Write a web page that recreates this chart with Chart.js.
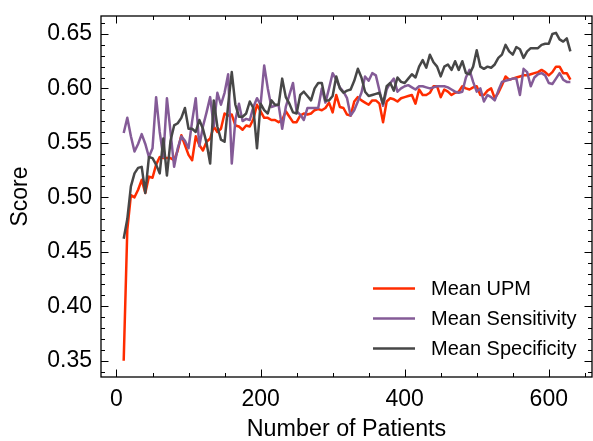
<!DOCTYPE html>
<html>
<head>
<meta charset="utf-8">
<script src="https://cdn.jsdelivr.net/npm/chart.js@4.4.1/dist/chart.umd.min.js"></script>
<style>
  html, body { margin: 0; padding: 0; background: #fff; }
</style>
</head>
<body>
<canvas id="chart" width="593" height="441"></canvas>
<script>
const patients = [
  10, 15, 20, 25, 30, 35, 40, 45, 50, 55, 60, 65, 70, 75, 80, 85, 90, 95, 100, 105,
  110, 115, 120, 125, 130, 135, 140, 145, 150, 155, 160, 165, 170, 175, 180, 185, 190, 195, 200, 205,
  210, 215, 220, 225, 230, 235, 240, 245, 250, 255, 260, 265, 270, 275, 280, 285, 290, 295, 300, 305,
  310, 315, 320, 325, 330, 335, 340, 345, 350, 355, 360, 365, 370, 375, 380, 385, 390, 395, 400, 405,
  410, 415, 420, 425, 430, 435, 440, 445, 450, 455, 460, 465, 470, 475, 480, 485, 490, 495, 500, 505,
  510, 515, 520, 525, 530, 535, 540, 545, 550, 555, 560, 565, 570, 575, 580, 585, 590, 595, 600, 605,
  610, 615, 620, 625, 630
];

const meanUpm = [
  0.350, 0.470, 0.502, 0.500, 0.507, 0.516, 0.504, 0.519, 0.518, 0.530, 0.537, 0.536, 0.536, 0.536, 0.534, 0.543, 0.557, 0.548, 0.539, 0.534,
  0.556, 0.548, 0.543, 0.551, 0.554, 0.565, 0.560, 0.563, 0.577, 0.575, 0.576, 0.566, 0.565, 0.562, 0.566, 0.565, 0.572, 0.585, 0.579, 0.573,
  0.573, 0.571, 0.571, 0.569, 0.571, 0.579, 0.574, 0.569, 0.569, 0.575, 0.577, 0.576, 0.577, 0.580, 0.581, 0.580, 0.582, 0.587, 0.578, 0.594,
  0.583, 0.582, 0.576, 0.575, 0.588, 0.592, 0.589, 0.587, 0.585, 0.589, 0.589, 0.586, 0.569, 0.588, 0.591, 0.590, 0.588, 0.591, 0.592, 0.593,
  0.594, 0.586, 0.599, 0.594, 0.594, 0.596, 0.602, 0.602, 0.592, 0.599, 0.597, 0.594, 0.596, 0.597, 0.602, 0.600, 0.599, 0.601, 0.602, 0.594,
  0.594, 0.598, 0.600, 0.591, 0.596, 0.603, 0.611, 0.608, 0.609, 0.610, 0.611, 0.612, 0.612, 0.613, 0.614, 0.615, 0.617, 0.615, 0.612, 0.615,
  0.620, 0.620, 0.614, 0.614, 0.608
];

const meanSensitivity = [
  0.559, 0.573, 0.556, 0.542, 0.549, 0.558, 0.549, 0.537, 0.545, 0.592, 0.560, 0.537, 0.591, 0.560, 0.528, 0.545, 0.556, 0.552, 0.545, 0.570,
  0.591, 0.547, 0.565, 0.578, 0.592, 0.565, 0.596, 0.585, 0.596, 0.613, 0.531, 0.571, 0.586, 0.570, 0.572, 0.571, 0.583, 0.591, 0.585, 0.621,
  0.600, 0.583, 0.584, 0.585, 0.563, 0.583, 0.594, 0.605, 0.579, 0.576, 0.571, 0.582, 0.582, 0.582, 0.582, 0.600, 0.587, 0.600, 0.614, 0.608,
  0.601, 0.597, 0.591, 0.575, 0.580, 0.588, 0.596, 0.611, 0.607, 0.614, 0.612, 0.598, 0.584, 0.599, 0.605, 0.609, 0.597, 0.600, 0.602, 0.603,
  0.601, 0.599, 0.602, 0.602, 0.601, 0.600, 0.601, 0.602, 0.602, 0.602, 0.601, 0.599, 0.597, 0.596, 0.597, 0.610, 0.617, 0.606, 0.597, 0.600,
  0.588, 0.594, 0.592, 0.589, 0.598, 0.606, 0.607, 0.608, 0.609, 0.609, 0.594, 0.618, 0.615, 0.602, 0.610, 0.613, 0.614, 0.612, 0.605, 0.604,
  0.609, 0.614, 0.608, 0.606, 0.606
];

const meanSpecificity = [
  0.462, 0.480, 0.510, 0.522, 0.527, 0.528, 0.504, 0.537, 0.536, 0.530, 0.522, 0.554, 0.520, 0.552, 0.566, 0.568, 0.573, 0.582, 0.563, 0.563,
  0.560, 0.571, 0.563, 0.550, 0.531, 0.589, 0.565, 0.553, 0.551, 0.585, 0.615, 0.585, 0.574, 0.574, 0.577, 0.588, 0.582, 0.545, 0.586, 0.580,
  0.577, 0.589, 0.585, 0.585, 0.609, 0.592, 0.586, 0.578, 0.577, 0.594, 0.597, 0.593, 0.589, 0.600, 0.605, 0.605, 0.589, 0.589, 0.593, 0.611,
  0.600, 0.596, 0.598, 0.599, 0.607, 0.618, 0.610, 0.597, 0.593, 0.594, 0.595, 0.596, 0.586, 0.602, 0.605, 0.598, 0.610, 0.606, 0.605, 0.609,
  0.613, 0.610, 0.620, 0.626, 0.619, 0.631, 0.624, 0.620, 0.611, 0.620, 0.622, 0.617, 0.625, 0.617, 0.625, 0.614, 0.613, 0.620, 0.635, 0.620,
  0.618, 0.620, 0.619, 0.622, 0.628, 0.631, 0.640, 0.634, 0.631, 0.638, 0.636, 0.628, 0.634, 0.637, 0.637, 0.637, 0.640, 0.641, 0.641, 0.650,
  0.651, 0.645, 0.643, 0.646, 0.634
];

const seriesLabels = ['Mean UPM', 'Mean Sensitivity', 'Mean Specificity'];
const seriesColors = ['#FF2C00', '#845B97', '#474747'];
const xTickValues = [0, 200, 400, 600];
const yTickValues = [0.35, 0.40, 0.45, 0.50, 0.55, 0.60, 0.65];

const FONT = '"Liberation Sans", Arial, Helvetica, sans-serif';

function toPoints(ys) {
  return patients.map((p, i) => ({x: p, y: ys[i]}));
}

// inward ticks on all four sides + box frame, like the matplotlib style
const frameTicks = {
  id: 'frameTicks',
  afterDatasetsDraw(chart) {
    const {ctx, chartArea: a, scales: {x, y}} = chart;
    ctx.save();
    ctx.strokeStyle = '#000';
    ctx.lineWidth = 1;
    ctx.beginPath();
    for (let v = 0; v <= 650; v += 50) {
      const px = Math.round(x.getPixelForValue(v)) + 0.5;
      const len = v % 200 === 0 ? 7.5 : 4;
      ctx.moveTo(px, a.bottom); ctx.lineTo(px, a.bottom - len);
      ctx.moveTo(px, a.top); ctx.lineTo(px, a.top + len);
    }
    for (let k = 34; k <= 66; k++) {
      const py = Math.round(y.getPixelForValue(k / 100)) + 0.5;
      const len = k % 5 === 0 ? 7.5 : 4;
      ctx.moveTo(a.left, py); ctx.lineTo(a.left + len, py);
      ctx.moveTo(a.right, py); ctx.lineTo(a.right - len, py);
    }
    ctx.stroke();
    ctx.lineWidth = 1.3;
    ctx.strokeRect(a.left, a.top, a.right - a.left, a.bottom - a.top);
    ctx.restore();
  }
};

const boxLegend = {
  id: 'boxLegend',
  afterDraw(chart) {
    const ctx = chart.ctx;
    ctx.save();
    ctx.font = '20px ' + FONT;
    ctx.textBaseline = 'middle';
    ctx.textAlign = 'left';
    chart.data.datasets.forEach((ds, i) => {
      const yy = 288.5 + i * 30;
      ctx.strokeStyle = ds.borderColor;
      ctx.lineWidth = 2.4;
      ctx.beginPath();
      ctx.moveTo(373, yy); ctx.lineTo(415, yy);
      ctx.stroke();
      ctx.fillStyle = '#000';
      ctx.fillText(ds.label, 431, yy + 1);
    });
    ctx.restore();
  }
};

new Chart(document.getElementById('chart'), {
  type: 'line',
  data: {
    datasets: [
      {label: seriesLabels[0], data: toPoints(meanUpm), borderColor: seriesColors[0], order: 3},
      {label: seriesLabels[1], data: toPoints(meanSensitivity), borderColor: seriesColors[1], order: 2},
      {label: seriesLabels[2], data: toPoints(meanSpecificity), borderColor: seriesColors[2], order: 1}
    ]
  },
  options: {
    responsive: false,
    animation: false,
    devicePixelRatio: 1,
    layout: {padding: {top: 16, right: 1, left: 0, bottom: 0}},
    elements: {
      line: {borderWidth: 2.5, tension: 0, fill: false, borderJoinStyle: 'round', borderCapStyle: 'butt'},
      point: {radius: 0, hoverRadius: 0}
    },
    plugins: {
      legend: {display: false},
      tooltip: {enabled: false}
    },
    scales: {
      x: {
        type: 'linear',
        min: -21.5,
        max: 660,
        grid: {display: false, drawTicks: false},
        border: {display: false},
        afterBuildTicks: s => { s.ticks = xTickValues.map(v => ({value: v})); },
        afterFit: s => { s.height = 64; s.paddingLeft = 0; s.paddingRight = 0; },
        ticks: {
          color: '#000',
          padding: 9,
          font: {family: FONT, size: 23},
          maxRotation: 0,
          callback: v => String(v)
        },
        title: {
          display: true,
          text: 'Number of Patients',
          color: '#000',
          padding: 0,
          font: {family: FONT, size: 23.3, lineHeight: '22px'}
        }
      },
      y: {
        min: 0.335,
        max: 0.6665,
        grid: {display: false, drawTicks: false},
        border: {display: false},
        afterBuildTicks: s => { s.ticks = yTickValues.map(v => ({value: v})); },
        afterFit: s => { s.width = 101; s.paddingTop = 0; s.paddingBottom = 0; },
        ticks: {
          color: '#000',
          padding: 9,
          font: {family: FONT, size: 23},
          callback: v => Number(v).toFixed(2)
        },
        title: {
          display: true,
          text: 'Score',
          color: '#000',
          padding: {top: 10, bottom: 0},
          font: {family: FONT, size: 23, lineHeight: '22px'}
        }
      }
    }
  },
  plugins: [frameTicks, boxLegend]
});
</script>
</body>
</html>
